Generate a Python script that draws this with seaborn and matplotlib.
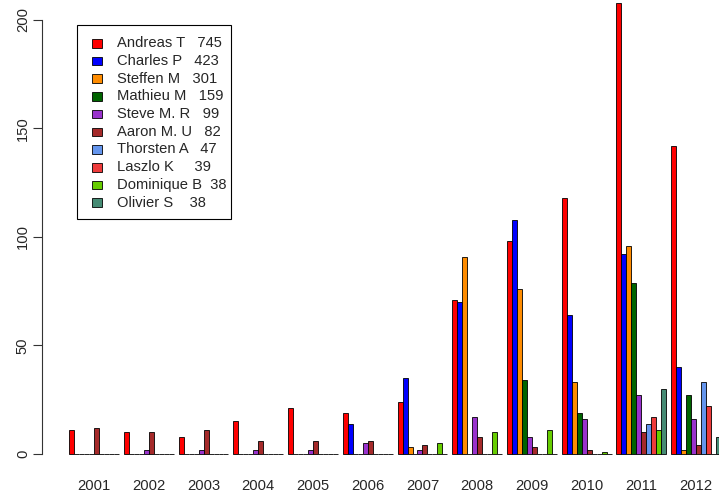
import matplotlib
matplotlib.use("Agg")
import matplotlib.pyplot as plt
from matplotlib.patches import Rectangle
import seaborn as sns
import pandas as pd

years = [str(y) for y in range(2001, 2013)]
authors = ["Andreas T", "Charles P", "Steffen M", "Mathieu M", "Steve M. R",
           "Aaron M. U", "Thorsten A", "Laszlo K", "Dominique B", "Olivier S"]
colors = ["#FF0000", "#0000FF", "#FF8C00", "#006400", "#9932CC",
          "#A52A2A", "#6495ED", "#EE3B3B", "#66CD00", "#458B74"]

# commits per year, one list per author (2001..2012)
andreas_t = [11, 10, 8, 15, 21, 19, 24, 71, 98, 118, 208, 142]
charles_p = [0, 0, 0, 0, 0, 14, 35, 70, 108, 64, 92, 40]
steffen_m = [0, 0, 0, 0, 0, 0, 3, 91, 76, 33, 96, 2]
mathieu_m = [0, 0, 0, 0, 0, 0, 0, 0, 34, 19, 79, 27]
steve_m_r = [0, 2, 2, 2, 2, 5, 2, 17, 8, 16, 27, 16]
aaron_m_u = [12, 10, 11, 6, 6, 6, 4, 8, 3, 2, 10, 4]
thorsten_a = [0, 0, 0, 0, 0, 0, 0, 0, 0, 0, 14, 33]
laszlo_k = [0, 0, 0, 0, 0, 0, 0, 0, 0, 0, 17, 22]
dominique_b = [0, 0, 0, 0, 0, 0, 5, 10, 11, 1, 11, 0]
olivier_s = [0, 0, 0, 0, 0, 0, 0, 0, 0, 0, 30, 8]

series = [andreas_t, charles_p, steffen_m, mathieu_m, steve_m_r,
          aaron_m_u, thorsten_a, laszlo_k, dominique_b, olivier_s]
# spacing between name and total in the legend text
legend_gaps = [3, 3, 3, 3, 3, 3, 3, 5, 2, 4]

rows = []
for name, vals in zip(authors, series):
    for yr, v in zip(years, vals):
        rows.append({"year": yr, "author": name, "count": v})
df = pd.DataFrame(rows)

sns.set_style("white")
plt.rcParams["font.family"] = ["Liberation Sans", "DejaVu Sans"]
FS = 10.6

W, H = 719, 493
fig = plt.figure(figsize=(W / 100, H / 100), dpi=100)
ax = fig.add_axes([42 / W, 21 / H, (W - 42) / W, 472 / H])

sns.barplot(data=df, x="year", y="count", hue="author", order=years,
            hue_order=authors, palette=colors, width=10 / 11, saturation=1,
            edgecolor="black", linewidth=0.6, errorbar=None, legend=False, ax=ax)

ax.set_xlim(-0.9527, 11.419)
ax.set_ylim(-8.29, 209.2)
ax.set_xlabel("")
ax.set_ylabel("")
for s in ["top", "right", "bottom"]:
    ax.spines[s].set_visible(False)
ax.spines["left"].set_bounds(0, 200)
ax.spines["left"].set_color("#333333")
ax.spines["left"].set_linewidth(0.8)

ax.set_yticks([0, 50, 100, 150, 200])
ax.tick_params(axis="y", length=6.5, width=0.8, color="#333333", pad=2.2,
               labelsize=FS, left=True)
for lab in ax.get_yticklabels():
    lab.set_rotation(90)
    lab.set_va("center")
ax.tick_params(axis="x", length=0, pad=4.8, labelsize=FS)

# legend box (R style)
def px(x, y):
    return x / W, 1 - y / H

lx0, ly0, lx1, ly1 = 77.3, 25, 231, 219
fig.patches.append(Rectangle(px(lx0, ly1), (lx1 - lx0) / W, (ly1 - ly0) / H,
                             transform=fig.transFigure, facecolor="white",
                             edgecolor="black", linewidth=0.8, zorder=5))
for i, (name, vals, c, g) in enumerate(zip(authors, series, colors, legend_gaps)):
    cy = 43.3 + 17.7 * i
    fig.patches.append(Rectangle(px(91.5, cy + 4.3), 10.8 / W, 8.6 / H,
                                 transform=fig.transFigure, facecolor=c,
                                 edgecolor="black", linewidth=0.6, zorder=6))
    fig.text(*px(116.7, cy), name + " " * g + str(sum(vals)), fontsize=FS,
             ha="left", va="center", zorder=7)

fig.savefig("out.png", dpi=100)
